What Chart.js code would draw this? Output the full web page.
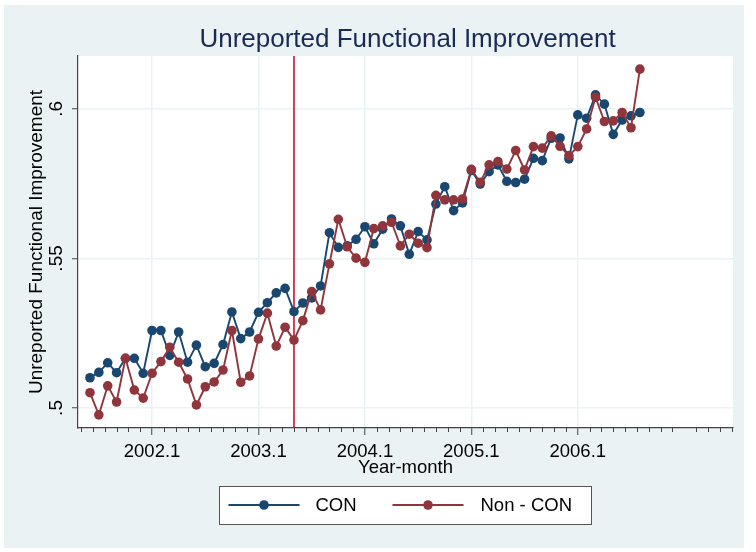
<!DOCTYPE html>
<html>
<head>
<meta charset="utf-8">
<script src="https://cdn.jsdelivr.net/npm/chart.js@4.4.1/dist/chart.umd.min.js"></script>
<style>
html, body { margin: 0; padding: 0; background: #fff; }
#wrap { width: 756px; height: 552px; }
</style>
</head>
<body>
<div id="wrap"><canvas id="chart" width="756" height="552"></canvas></div>
<script>
// Serie mensual, primera observación 2001m6, última 2006m8
const firstObs = '2001.6';
const seriesNames = ['CON', 'Non - CON'];
const conValues = [
    0.5101, 0.5119, 0.5151, 0.5118, 0.5166, 0.5166, 0.5116, 0.5259, 0.5259, 0.5176,
    0.5254, 0.5153, 0.5210, 0.5138, 0.5149, 0.5212, 0.5321, 0.5232, 0.5254, 0.5320,
    0.5352, 0.5385, 0.5400, 0.5322, 0.5351, 0.5368, 0.5408, 0.5586, 0.5537, 0.5542,
    0.5564, 0.5606, 0.5549, 0.5598, 0.5632, 0.5609, 0.5514, 0.5590, 0.5562, 0.5682,
    0.5740, 0.5660, 0.5686, 0.5794, 0.5749, 0.5790, 0.5813, 0.5758, 0.5754, 0.5765,
    0.5835, 0.5827, 0.5902, 0.5903, 0.5833, 0.5980, 0.5969, 0.6047, 0.6016, 0.5915,
    0.5963, 0.5977, 0.5988
];
const nonConValues = [
    0.5051, 0.4977, 0.5074, 0.5020, 0.5166, 0.5060, 0.5033, 0.5116, 0.5155, 0.5203,
    0.5153, 0.5097, 0.5010, 0.5071, 0.5087, 0.5127, 0.5259, 0.5086, 0.5107, 0.5231,
    0.5317, 0.5207, 0.5270, 0.5227, 0.5292, 0.5389, 0.5328, 0.5482, 0.5631, 0.5539,
    0.5501, 0.5487, 0.5600, 0.5609, 0.5621, 0.5542, 0.5581, 0.5551, 0.5536, 0.5711,
    0.5696, 0.5696, 0.5699, 0.5798, 0.5755, 0.5813, 0.5824, 0.5799, 0.5861, 0.5796,
    0.5874, 0.5869, 0.5910, 0.5875, 0.5844, 0.5874, 0.5933, 0.6039, 0.5958, 0.5960,
    0.5988, 0.5937, 0.6133
];
const xTickLabels = ['2002.1', '2003.1', '2004.1', '2005.1', '2006.1'];
const yTickValues = [0.5, 0.55, 0.6];
const yTickLabels = ['.5', '.55', '.6'];
const policyMonth = '2003.5'; // línea vertical

// "2002.1" -> meses desde 2000m1
function monthIndex(label) {
    const parts = label.split('.').map(Number);
    return (parts[0] - 2000) * 12 + (parts[1] - 1);
}

const start = monthIndex(firstObs);
const conPoints = conValues.map((v, i) => ({ x: start + i, y: v }));
const nonConPoints = nonConValues.map((v, i) => ({ x: start + i, y: v }));
const xTickValues = xTickLabels.map(monthIndex);

const FONT = '"Liberation Sans", Arial, sans-serif';
const NAVY = '#1A476F';
const MAROON = '#90353B';
const BG = '#EAF2F3';

// fondo gris tipo Stata y área blanca
const backgroundPlugin = {
    id: 'stataBackground',
    beforeDraw(chart) {
        const ctx = chart.ctx;
        const a = chart.chartArea;
        ctx.save();
        ctx.fillStyle = '#fff';
        ctx.fillRect(0, 0, chart.width, chart.height);
        ctx.fillStyle = BG;
        ctx.fillRect(4, 5, 740, 543);
        ctx.fillStyle = '#fff';
        ctx.fillRect(a.left, a.top, a.right - a.left, a.bottom - a.top);
        ctx.restore();
    }
};

// línea vertical de la intervención
const policyLinePlugin = {
    id: 'policyLine',
    beforeDatasetsDraw(chart) {
        const ctx = chart.ctx;
        const a = chart.chartArea;
        const px = chart.scales.x.getPixelForValue(monthIndex(policyMonth));
        ctx.save();
        ctx.strokeStyle = '#C8102E';
        ctx.lineWidth = 1.6;
        ctx.beginPath();
        ctx.moveTo(px, a.top);
        ctx.lineTo(px, a.bottom);
        ctx.stroke();
        ctx.restore();
    }
};

// ticks menores del eje x (9 por año)
const minorTicksPlugin = {
    id: 'minorTicks',
    afterDraw(chart) {
        const ctx = chart.ctx;
        const xs = chart.scales.x;
        const bottom = chart.chartArea.bottom;
        ctx.save();
        ctx.strokeStyle = '#444';
        ctx.lineWidth = 1;
        for (let n = -6; n <= 60; n++) {
            if (n % 9 === 0) continue;
            const v = xTickValues[0] + n * 12 / 9;
            if (v < xs.min || v > xs.max) continue;
            const px = Math.round(xs.getPixelForValue(v)) + 0.5;
            ctx.beginPath();
            ctx.moveTo(px, bottom);
            ctx.lineTo(px, bottom + 4);
            ctx.stroke();
        }
        ctx.restore();
    }
};

// leyenda en caja
const legendPlugin = {
    id: 'stataLegend',
    afterDraw(chart) {
        const ctx = chart.ctx;
        const a = chart.chartArea;
        const boxW = 372, boxH = 38, top = 486;
        const left = Math.round((a.left + a.right) / 2 - boxW / 2) - 0.5;
        const cy = top + boxH / 2;
        ctx.save();
        ctx.fillStyle = '#fff';
        ctx.fillRect(left, top, boxW, boxH);
        ctx.strokeStyle = '#555';
        ctx.lineWidth = 1;
        ctx.strokeRect(left, top + 0.5, boxW, boxH);
        const items = [{ off: 9, text: 96 }, { off: 173, text: 261 }];
        chart.data.datasets.forEach((ds, i) => {
            const x0 = left + items[i].off;
            ctx.strokeStyle = ds.borderColor;
            ctx.lineWidth = 1.9;
            ctx.beginPath();
            ctx.moveTo(x0, cy);
            ctx.lineTo(x0 + 71, cy);
            ctx.stroke();
            ctx.fillStyle = ds.backgroundColor;
            ctx.beginPath();
            ctx.arc(x0 + 35.5, cy, 4.8, 0, Math.PI * 2);
            ctx.fill();
            ctx.fillStyle = '#000';
            ctx.font = '18.5px ' + FONT;
            ctx.textBaseline = 'middle';
            ctx.textAlign = 'left';
            ctx.fillText(ds.label, left + items[i].text, cy + 1);
        });
        ctx.restore();
    }
};

// título principal centrado sobre el área del gráfico
const titlePlugin = {
    id: 'stataTitle',
    afterDraw(chart) {
        const ctx = chart.ctx;
        const a = chart.chartArea;
        ctx.save();
        ctx.fillStyle = '#1A2A57';
        ctx.font = '26px ' + FONT;
        ctx.textAlign = 'center';
        ctx.textBaseline = 'middle';
        ctx.fillText('Unreported Functional Improvement', (a.left + a.right) / 2 + 2, 40);
        ctx.restore();
    }
};

const ctx = document.getElementById('chart').getContext('2d');
const chart = new Chart(ctx, {
    type: 'line',
    data: {
        datasets: [{
            label: seriesNames[0],
            data: conPoints,
            borderColor: NAVY,
            backgroundColor: NAVY,
            borderWidth: 1.9,
            pointRadius: 4.8,
            pointBorderWidth: 0,
            pointBackgroundColor: NAVY,
            tension: 0,
            order: 2
        }, {
            label: seriesNames[1],
            data: nonConPoints,
            borderColor: MAROON,
            backgroundColor: MAROON,
            borderWidth: 1.9,
            pointRadius: 4.8,
            pointBorderWidth: 0,
            pointBackgroundColor: MAROON,
            tension: 0,
            order: 1
        }]
    },
    options: {
        responsive: false,
        animation: false,
        devicePixelRatio: 1,
        layout: { padding: { top: 56, right: 23, bottom: 0, left: 0 } },
        plugins: {
            legend: { display: false },
            title: { display: false },
            tooltip: { enabled: false }
        },
        scales: {
            x: {
                type: 'linear',
                min: 15.65,
                max: 89.5,
                afterFit(scale) { scale.height = 124; },
                afterBuildTicks(scale) {
                    scale.ticks = xTickValues.map(v => ({ value: v }));
                },
                ticks: {
                    callback: (v) => xTickLabels[xTickValues.indexOf(v)],
                    font: { family: FONT, size: 18.5 },
                    color: '#000',
                    padding: 6,
                    maxRotation: 0,
                    autoSkip: false
                },
                grid: {
                    color: BG,
                    lineWidth: 1.5,
                    tickColor: '#444',
                    tickLength: 7,
                    tickWidth: 1
                },
                border: { display: true, color: '#444', width: 1.2 },
                title: {
                    display: true,
                    text: 'Year-month',
                    font: { family: FONT, size: 18.5 },
                    color: '#000',
                    padding: { top: 0, bottom: 73 }
                }
            },
            y: {
                type: 'linear',
                min: 0.4933,
                max: 0.6177,
                afterFit(scale) { scale.width = 78; },
                afterBuildTicks(scale) {
                    scale.ticks = yTickValues.map(v => ({ value: v }));
                },
                ticks: {
                    callback: (v) => yTickLabels[yTickValues.indexOf(v)],
                    font: { family: FONT, size: 19 },
                    color: '#000',
                    minRotation: 90,
                    maxRotation: 90,
                    crossAlign: 'center',
                    padding: 2
                },
                grid: {
                    color: BG,
                    lineWidth: 1.5,
                    tickColor: '#444',
                    tickLength: 6,
                    tickWidth: 1
                },
                border: { display: true, color: '#444', width: 1.2 },
                title: {
                    display: true,
                    text: 'Unreported Functional Improvement',
                    font: { family: FONT, size: 19 },
                    color: '#000',
                    padding: { top: 25, bottom: 0 }
                }
            }
        }
    },
    plugins: [backgroundPlugin, policyLinePlugin, minorTicksPlugin, legendPlugin, titlePlugin]
});
</script>
</body>
</html>
